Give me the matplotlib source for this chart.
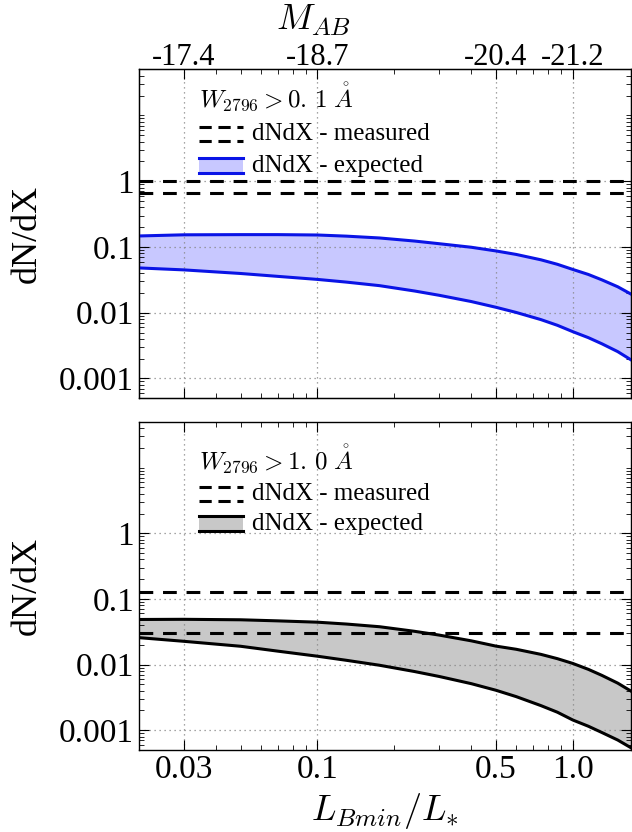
import matplotlib
matplotlib.use("Agg")
import matplotlib.pyplot as plt
from matplotlib.ticker import FixedLocator, FixedFormatter, LogLocator, NullFormatter
from matplotlib.legend_handler import HandlerBase
from matplotlib.lines import Line2D
from matplotlib.patches import Rectangle

plt.rcParams['font.family'] = 'serif'
plt.rcParams['font.serif'] = ['Liberation Serif', 'DejaVu Serif']
plt.rcParams['mathtext.fontset'] = 'cm'

# ---------------- data ----------------
L_ratio = [0.02, 0.03, 0.05, 0.07, 0.1, 0.13, 0.175, 0.24, 0.3, 0.4, 0.5, 0.6,
           0.75, 0.87, 1.0, 1.15, 1.3, 1.5, 1.69]

top_upper = [0.147, 0.153, 0.154, 0.154, 0.152, 0.146, 0.137, 0.123, 0.112, 0.099,
             0.087, 0.077, 0.0638, 0.0545, 0.0455, 0.0382, 0.0316, 0.0248, 0.0192]
top_lower = [0.048, 0.0448, 0.0395, 0.0357, 0.0321, 0.0292, 0.0258, 0.0214, 0.0184,
             0.0148, 0.0121, 0.0101, 0.00786, 0.00644, 0.00515, 0.00418, 0.00337,
             0.00256, 0.00192]
top_measured = [1.0, 0.66]

bot_upper = [0.0486, 0.0489, 0.0481, 0.0463, 0.0442, 0.0414, 0.0377, 0.0321, 0.0281,
             0.023, 0.0191, 0.0171, 0.0143, 0.0123, 0.0104, 0.00846, 0.00684,
             0.00521, 0.00394]
bot_lower = [0.0257, 0.0226, 0.019, 0.016, 0.0134, 0.0116, 0.00976, 0.00783, 0.00658,
             0.00512, 0.00406, 0.00325, 0.00237, 0.00188, 0.00143, 0.00115, 0.000922,
             0.000708, 0.00054]
bot_measured = [0.128, 0.030]

x_ticks = [0.03, 0.1, 0.5, 1.0]
x_ticklabels = ['0.03', '0.1', '0.5', '1.0']
mab_labels = ['-17.4', '-18.7', '-20.4', '-21.2']
y_ticks = [0.001, 0.01, 0.1, 1]
y_ticklabels = ['0.001', '0.01', '0.1', '1']

panel_titles = [r'$W_{2796} > 0.\,1\;\mathring{A}$', r'$W_{2796} > 1.\,0\;\mathring{A}$']

# ---------------- legend handlers ----------------
class DoubleDash(HandlerBase):
    def create_artists(self, legend, orig, xd, yd, w, h, fs, trans):
        arts = []
        for f in (0.05, 0.95):
            l = Line2D([xd, xd + w], [yd + h * f, yd + h * f], color='black',
                       lw=2.2, dashes=(4, 2.2), transform=trans)
            arts.append(l)
        return arts

class BandHandler(HandlerBase):
    def __init__(self, fc, ec):
        super().__init__()
        self.fc, self.ec = fc, ec
    def create_artists(self, legend, orig, xd, yd, w, h, fs, trans):
        r = Rectangle((xd, yd), w, h, facecolor=self.fc, edgecolor='none', transform=trans)
        l1 = Line2D([xd, xd + w], [yd, yd], color=self.ec, lw=2.2, transform=trans)
        l2 = Line2D([xd, xd + w], [yd + h, yd + h], color=self.ec, lw=2.2, transform=trans)
        return [r, l1, l2]

fig = plt.figure(figsize=(6.32, 8.32), dpi=100)
ax1 = fig.add_axes([0.2199, 0.5213, 0.7785, 0.3952])
ax2 = fig.add_axes([0.2199, 0.0986, 0.7785, 0.3945])

specs = [
    (ax1, top_upper, top_lower, top_measured, '#c8c8ff', '#0a14e6', panel_titles[0], 0.965, 0.37),
    (ax2, bot_upper, bot_lower, bot_measured, '#c8c8c8', 'black', panel_titles[1], 0.937, 0.30),
]

for ax, up, lo, meas, fc, ec, title, ly, lsp in specs:
    ax.set_xscale('log')
    ax.set_yscale('log')
    ax.fill_between(L_ratio, lo, up, facecolor=fc, edgecolor='none', zorder=1)
    ax.plot(L_ratio, up, color=ec, lw=2.2, zorder=3)
    ax.plot(L_ratio, lo, color=ec, lw=2.2, zorder=3)
    for m in meas:
        ax.axhline(m, color='black', lw=2.2, dashes=(4.5, 3.2), zorder=4)
    ax.set_xlim(0.02, 1.69)
    ax.set_ylim(5e-4, 50)
    ax.xaxis.set_major_locator(FixedLocator(x_ticks))
    ax.xaxis.set_minor_locator(LogLocator(base=10, subs=range(1, 10)))
    ax.xaxis.set_minor_formatter(NullFormatter())
    ax.yaxis.set_major_locator(FixedLocator(y_ticks))
    ax.yaxis.set_major_formatter(FixedFormatter(y_ticklabels))
    ax.yaxis.set_minor_locator(LogLocator(base=10, subs=range(1, 10), numticks=20))
    ax.yaxis.set_minor_formatter(NullFormatter())
    ax.grid(True, which='major', color='#888888', linestyle=(0, (1, 3)), lw=0.9, zorder=0)
    ax.tick_params(which='both', direction='in', top=True, right=True, labelsize=24)
    ax.tick_params(which='major', length=7, width=0.8)
    ax.tick_params(which='minor', length=3.5, width=0.6)
    ax.set_ylabel('dN/dX', fontsize=26, labelpad=11)
    for s in ax.spines.values():
        s.set_linewidth(1.0)
    h1 = Line2D([], [])
    h2 = Rectangle((0, 0), 1, 1)
    leg = ax.legend([h1, h2], ['dNdX - measured', 'dNdX - expected'],
                    handler_map={h1: DoubleDash(), h2: BandHandler(fc, ec)},
                    title=title, title_fontsize=18, alignment='left',
                    loc='upper left', bbox_to_anchor=(0.122, ly), frameon=False,
                    fontsize=18, handlelength=1.75, handleheight=0.55,
                    handletextpad=0.35, labelspacing=lsp, borderpad=0,
                    borderaxespad=0)

ax1.xaxis.set_major_formatter(NullFormatter())
ax2.xaxis.set_major_formatter(FixedFormatter(x_ticklabels))
ax2.set_xlabel(r'$L_{Bmin}/L_{*}$', fontsize=26, labelpad=4)

axt = ax1.twiny()
axt.set_xscale('log')
axt.set_xlim(ax1.get_xlim())
axt.xaxis.set_major_locator(FixedLocator(x_ticks))
axt.xaxis.set_major_formatter(FixedFormatter(mab_labels))
axt.xaxis.set_minor_locator(LogLocator(base=10, subs=range(1, 10)))
axt.xaxis.set_minor_formatter(NullFormatter())
axt.tick_params(which='both', direction='in', labelsize=22, pad=-2)
axt.tick_params(which='major', length=7, width=0.8)
axt.tick_params(which='minor', length=3.5, width=0.6)
axt.set_xlabel(r'$M_{AB}$', fontsize=26, labelpad=2)
axt.xaxis.set_label_coords(0.354, 1.12)

fig.savefig('out.png', dpi=100)
